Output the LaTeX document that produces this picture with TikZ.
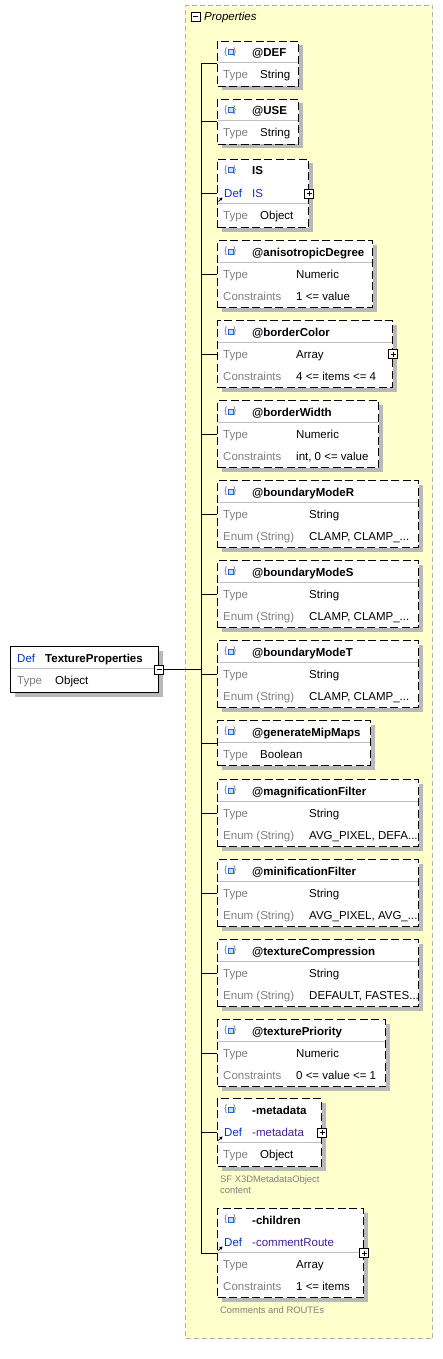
\documentclass[tikz,border=0pt]{standalone}
\usepackage{fontspec}
\setmainfont{Liberation Sans}
\usetikzlibrary{positioning,arrows.meta}
\definecolor{propyellow}{RGB}{255,255,204}
\definecolor{deflabel}{RGB}{0,51,204}
\definecolor{defvalue}{RGB}{64,32,150}
\definecolor{lblgray}{RGB}{128,128,128}
\definecolor{sepgray}{RGB}{192,192,192}
\definecolor{shadowgray}{RGB}{185,185,185}
\definecolor{iconblue}{RGB}{40,100,210}
\definecolor{iconfill}{RGB}{205,222,250}
\definecolor{bracegray}{RGB}{90,110,140}

\begin{document}
\begin{tikzpicture}[x=1pt, y=-1pt, every node/.style={font=\fontsize{11.5}{13.5}\selectfont}]
  \tikzstyle{area}=[rectangle,draw=black!30,dash pattern=on 5pt off 3pt,line width=1pt,fill=propyellow,inner sep=0pt,anchor=north west]
  \tikzstyle{mainbox}=[rectangle,draw,line width=1pt,fill=white,inner sep=0pt,anchor=north west]
  \tikzstyle{propbox}=[mainbox,dash pattern=on 8pt off 3.5pt]
  \tikzstyle{boxshadow}=[fill=shadowgray]
  \tikzstyle{txt}=[anchor=west,inner sep=0pt,text height=8pt,text depth=0pt]
  \tikzstyle{hdr}=[txt,font=\fontsize{11.5}{13.5}\selectfont\bfseries]
  \tikzstyle{lbl}=[txt,text=lblgray]
  \tikzstyle{deflbl}=[txt,text=deflabel]
  \tikzstyle{defval}=[txt,text=defvalue]
  \tikzstyle{note}=[anchor=north west,inner sep=0pt,align=left,text=lblgray,font=\fontsize{9.4}{11}\selectfont]
  \tikzstyle{brc}=[inner sep=0pt,text=bracegray,font=\fontsize{9}{10}\selectfont]
  \tikzstyle{sq}=[rectangle,draw=iconblue,fill=iconfill,line width=1pt,minimum size=5pt,inner sep=0pt]
  \tikzstyle{minusbox}=[rectangle,draw,fill=white,line width=0.8pt,minimum size=9pt,inner sep=0pt,
    path picture={\draw[line width=0.8pt] ([xshift=2pt]path picture bounding box.west) -- ([xshift=-2pt]path picture bounding box.east);}]
  \tikzstyle{plusbox}=[rectangle,draw,fill=white,line width=0.8pt,minimum size=9pt,inner sep=0pt,
    path picture={\draw[line width=0.8pt] ([xshift=2pt]path picture bounding box.west) -- ([xshift=-2pt]path picture bounding box.east);
      \draw[line width=0.8pt] ([yshift=-2pt]path picture bounding box.north) -- ([yshift=2pt]path picture bounding box.south);}]
  \tikzstyle{sepline}=[sepgray,line width=1pt]
  \tikzstyle{refarrow}=[-{Stealth[length=3pt,width=3.5pt]},line width=0.9pt]
  \tikzstyle{link}=[line width=1pt]

  \useasboundingbox (0,0) rectangle (443,1359);

  % properties group
  \node[area,minimum width=247pt,minimum height=1333pt] (props) at (185,5) {};
  \node[minusbox] (propsminus) at (195.5,16.5) {};
  \node[txt,font=\fontsize{11.5}{13.5}\selectfont\itshape] (propstitle) at (204,17) {Properties};
  \coordinate (bus) at (201,0);

  % the complex type itself
  \fill[boxshadow] (14.5,650.5) rectangle ++(148,46);
  \node[mainbox,minimum width=148pt,minimum height=46pt] (tp) at (10,646) {};
  \draw[sepline] ([xshift=1pt,yshift=-22pt]tp.north west) -- ([xshift=-1pt,yshift=-22pt]tp.north east);
  \node[deflbl] (tpdef) at ([xshift=7pt,yshift=-12pt]tp.north west) {Def};
  \node[hdr] (tpname) at ([xshift=35pt,yshift=-12pt]tp.north west) {TextureProperties};
  \node[lbl] (tptype) at ([xshift=7pt,yshift=-34pt]tp.north west) {Type};
  \node[txt] (tpobj) at ([xshift=45pt,yshift=-34pt]tp.north west) {Object};
  \node[minusbox] (tpminus) at (tp.east) {};

  % attributes with a type only
  \foreach \nm/\ty/\bw/\hd/\tval in {def/41/81/@DEF/String, use/99/81/@USE/String, mipmaps/720/153/@generateMipMaps/Boolean} {
    \fill[boxshadow] (221.5,{\ty+4.5}) rectangle ++(\bw,45);
    \node[propbox,minimum width=\bw pt,minimum height=45pt] (\nm) at (217,\ty) {};
    \draw[sepline] ([xshift=1pt,yshift=-22pt]\nm.north west) -- ([xshift=-1pt,yshift=-22pt]\nm.north east);
    \node[brc] (\nm brace) at ([xshift=13.5pt,yshift=-11.5pt]\nm.north west) {\{\hspace{6pt}\}};
    \node[sq] (\nm icon) at (\nm brace) {};
    \node[hdr] (\nm name) at ([xshift=35pt,yshift=-12pt]\nm.north west) {\hd};
    \node[lbl] (\nm type) at ([xshift=6pt,yshift=-34pt]\nm.north west) {Type};
    \node[txt] (\nm tval) at ([xshift=43pt,yshift=-34pt]\nm.north west) {\tval};
    \draw[link] (bus |- \nm.west) -- (\nm.west);
  }

  % attributes with constraints or enums
  \foreach \nm/\ty/\bw/\hd/\tval/\rlab/\rval/\vx in {
      aniso/240/155/@anisotropicDegree/Numeric/Constraints/{1 <= value}/79,
      bcolor/320/175/@borderColor/Array/Constraints/{4 <= items <= 4}/79,
      bwidth/400/161/@borderWidth/Numeric/Constraints/{int, 0 <= value}/79,
      bmodeR/480/201/@boundaryModeR/String/{Enum (String)}/{CLAMP, CLAMP\_...}/92,
      bmodeS/560/201/@boundaryModeS/String/{Enum (String)}/{CLAMP, CLAMP\_...}/92,
      bmodeT/640/201/@boundaryModeT/String/{Enum (String)}/{CLAMP, CLAMP\_...}/92,
      magfilter/779/201/@magnificationFilter/String/{Enum (String)}/{AVG\_PIXEL, DEFA...}/92,
      minfilter/859/201/@minificationFilter/String/{Enum (String)}/{AVG\_PIXEL, AVG\_...}/92,
      compression/939/201/@textureCompression/String/{Enum (String)}/{DEFAULT, FASTES...}/92,
      priority/1019/168/@texturePriority/Numeric/Constraints/{0 <= value <= 1}/79} {
    \fill[boxshadow] (221.5,{\ty+4.5}) rectangle ++(\bw,67);
    \node[propbox,minimum width=\bw pt,minimum height=67pt] (\nm) at (217,\ty) {};
    \draw[sepline] ([xshift=1pt,yshift=-22pt]\nm.north west) -- ([xshift=-1pt,yshift=-22pt]\nm.north east);
    \node[brc] (\nm brace) at ([xshift=13.5pt,yshift=-11.5pt]\nm.north west) {\{\hspace{6pt}\}};
    \node[sq] (\nm icon) at (\nm brace) {};
    \node[hdr] (\nm name) at ([xshift=35pt,yshift=-12pt]\nm.north west) {\hd};
    \node[lbl] (\nm type) at ([xshift=6pt,yshift=-34pt]\nm.north west) {Type};
    \node[txt] (\nm tval) at ([xshift=\vx pt,yshift=-34pt]\nm.north west) {\tval};
    \node[lbl] (\nm rlab) at ([xshift=6pt,yshift=-56pt]\nm.north west) {\rlab};
    \node[txt] (\nm rval) at ([xshift=\vx pt,yshift=-56pt]\nm.north west) {\rval};
    \draw[link] (bus |- \nm.west) -- (\nm.west);
  }
  \node[plusbox] (bcolorplus) at (bcolor.east) {};

  % elements that refer to a definition
  \foreach \nm/\ty/\bw/\bh/\hd/\dval/\tval/\vx in {
      is/159/91/68/IS/IS/Object/43,
      meta/1098/104/68/-metadata/-metadata/Object/43,
      children/1208/146/89/-children/-commentRoute/Array/79} {
    \fill[boxshadow] (221.5,{\ty+4.5}) rectangle ++(\bw,\bh);
    \node[propbox,minimum width=\bw pt,minimum height=\bh pt] (\nm) at (217,\ty) {};
    \draw[sepline] ([xshift=1pt,yshift=-44pt]\nm.north west) -- ([xshift=-1pt,yshift=-44pt]\nm.north east);
    \node[brc] (\nm brace) at ([xshift=13.5pt,yshift=-11.5pt]\nm.north west) {\{\hspace{6pt}\}};
    \node[sq] (\nm icon) at (\nm brace) {};
    \node[hdr] (\nm name) at ([xshift=35pt,yshift=-12pt]\nm.north west) {\hd};
    \node[deflbl] (\nm def) at ([xshift=7pt,yshift=-34pt]\nm.north west) {Def};
    \node[defval] (\nm dval) at ([xshift=35pt,yshift=-34pt]\nm.north west) {\dval};
    \draw[refarrow] ([xshift=1.5pt,yshift=-42.5pt]\nm.north west) -- ++(4,-4);
    \node[lbl] (\nm type) at ([xshift=6pt,yshift=-56pt]\nm.north west) {Type};
    \node[txt] (\nm tval) at ([xshift=\vx pt,yshift=-56pt]\nm.north west) {\tval};
    \node[plusbox] (\nm plus) at (\nm.east) {};
    \draw[link] (bus |- \nm.west) -- (\nm.west);
  }
  \node[lbl] (childrenrlab) at ([xshift=6pt,yshift=-78pt]children.north west) {Constraints};
  \node[txt] (childrenrval) at ([xshift=79pt,yshift=-78pt]children.north west) {1 <= items};
  \node[note] (metanote) at ([xshift=3pt,yshift=-8.5pt]meta.south west) {SF X3DMetadataObject\\content};
  \node[note] (childrennote) at ([xshift=3pt,yshift=-8.5pt]children.south west) {Comments and ROUTEs};

  % sequence bus
  \draw[link] (bus |- def.west) -- (bus |- children.west);
  \draw[link] (tpminus.east) -- (bus |- tpminus.east);
\end{tikzpicture}
\end{document}
